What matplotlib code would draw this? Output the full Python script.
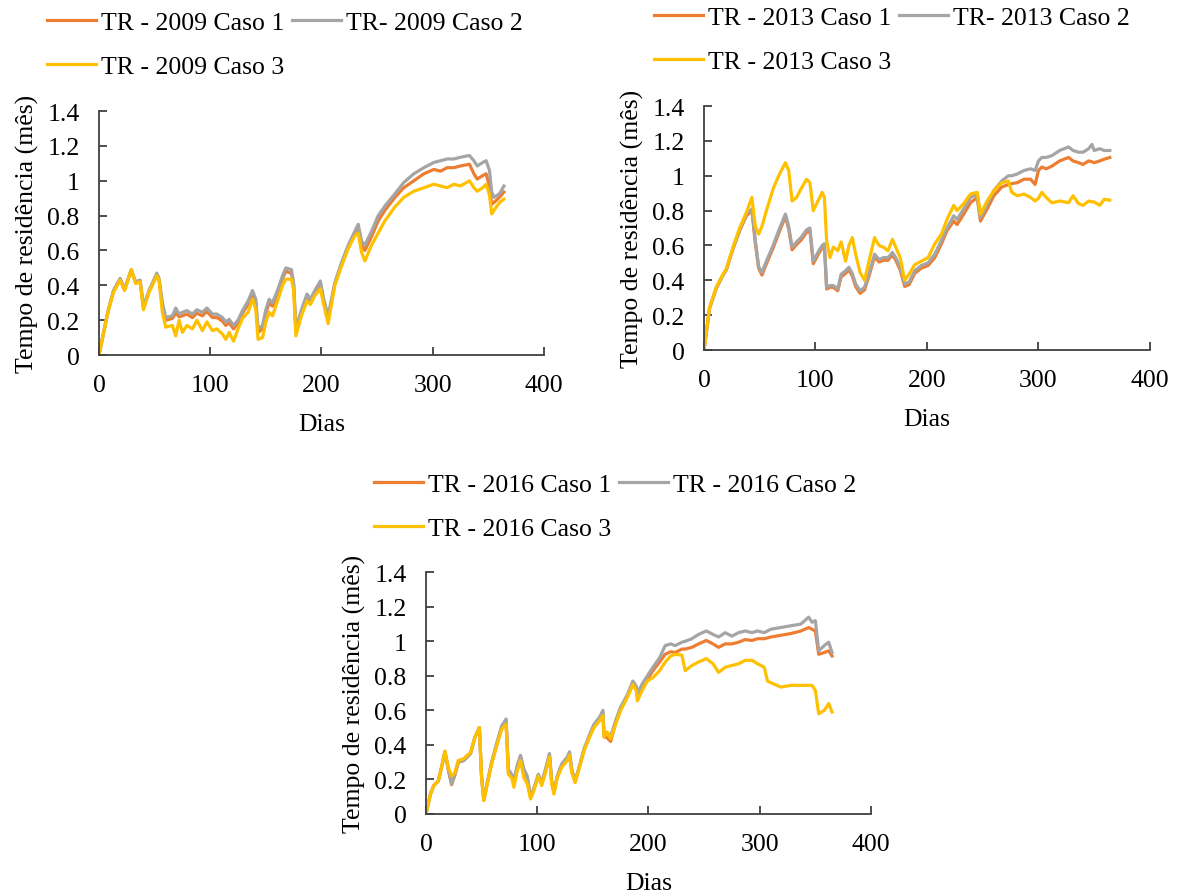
import matplotlib
matplotlib.use("Agg")
import matplotlib.pyplot as plt

plt.rcParams['font.family'] = ['Liberation Serif', 'DejaVu Serif']

# Cores (paleta do Excel)
cor_caso1 = '#ED7D31'
cor_caso2 = '#A5A5A5'
cor_caso3 = '#FFC000'

# ---- 2009 ----
dias_2009 = [0, 8, 13, 19, 23, 29, 33, 37, 40, 45, 52, 54, 57, 60, 66, 69, 72, 75, 79, 84,
             88, 93, 97, 102, 106, 111, 114, 117, 121, 125, 129, 134, 138, 141, 143, 147, 150, 153, 156, 161,
             165, 168, 173, 175, 177, 182, 187, 190, 194, 199, 202, 206, 212, 218, 224, 230, 233, 236, 239, 245,
             251, 257, 266, 274, 283, 292, 301, 307, 313, 319, 325, 333, 337, 340, 345, 348, 351, 353, 355, 360,
             364]
tr2009_caso1 = [0, 0.245, 0.365, 0.435, 0.375, 0.485, 0.415, 0.425, 0.27, 0.365, 0.46, 0.435, 0.28, 0.20, 0.21, 0.24, 0.22, 0.225, 0.235, 0.215,
                0.24, 0.225, 0.25, 0.215, 0.215, 0.195, 0.17, 0.185, 0.15, 0.185, 0.24, 0.29, 0.35, 0.30, 0.13, 0.15, 0.24, 0.30, 0.28, 0.36,
                0.44, 0.48, 0.47, 0.40, 0.14, 0.25, 0.34, 0.31, 0.36, 0.41, 0.31, 0.21, 0.41, 0.52, 0.62, 0.70, 0.73, 0.63, 0.60, 0.68,
                0.77, 0.83, 0.905, 0.96, 1.0, 1.04, 1.065, 1.055, 1.075, 1.075, 1.085, 1.095, 1.04, 1.01, 1.03, 1.04, 0.97, 0.865, 0.875, 0.905,
                0.935]
tr2009_caso2 = [0, 0.25, 0.37, 0.44, 0.38, 0.49, 0.42, 0.43, 0.28, 0.37, 0.47, 0.44, 0.30, 0.215, 0.225, 0.27, 0.235, 0.245, 0.255, 0.235,
                0.26, 0.245, 0.27, 0.235, 0.235, 0.215, 0.19, 0.205, 0.17, 0.20, 0.255, 0.31, 0.37, 0.32, 0.15, 0.17, 0.26, 0.32, 0.30, 0.38,
                0.455, 0.50, 0.49, 0.41, 0.15, 0.26, 0.35, 0.32, 0.37, 0.425, 0.32, 0.225, 0.415, 0.53, 0.63, 0.71, 0.75, 0.655, 0.63, 0.71,
                0.80, 0.855, 0.925, 0.99, 1.04, 1.075, 1.105, 1.115, 1.125, 1.125, 1.135, 1.145, 1.115, 1.085, 1.105, 1.115, 1.06, 0.935, 0.905, 0.925,
                0.97]
tr2009_caso3 = [0, 0.245, 0.36, 0.43, 0.37, 0.49, 0.41, 0.42, 0.26, 0.36, 0.455, 0.43, 0.245, 0.16, 0.17, 0.11, 0.20, 0.13, 0.17, 0.15,
                0.20, 0.14, 0.19, 0.14, 0.15, 0.12, 0.09, 0.13, 0.08, 0.15, 0.21, 0.245, 0.32, 0.26, 0.09, 0.10, 0.19, 0.245, 0.225, 0.32,
                0.40, 0.435, 0.435, 0.37, 0.11, 0.225, 0.31, 0.29, 0.34, 0.38, 0.29, 0.18, 0.40, 0.51, 0.61, 0.685, 0.70, 0.59, 0.54, 0.63,
                0.70, 0.77, 0.85, 0.905, 0.94, 0.96, 0.98, 0.97, 0.96, 0.98, 0.97, 1.0, 0.96, 0.94, 0.96, 0.98, 0.92, 0.81, 0.83, 0.875,
                0.895]

# ---- 2013 ----
dias_2013 = [0, 5, 11, 17, 20, 26, 32, 38, 43, 46, 49, 52, 56, 62, 67, 73, 76, 79, 83, 87,
             92, 95, 98, 103, 106, 108, 110, 113, 116, 120, 123, 127, 130, 133, 136, 140, 144, 148, 153, 157,
             161, 165, 169, 172, 176, 180, 184, 189, 195, 201, 207, 213, 218, 224, 227, 233, 239, 245, 248, 254,
             260, 267, 273, 276, 281, 287, 293, 297, 300, 303, 307, 312, 319, 327, 331, 336, 340, 345, 348, 350,
             355, 359, 364]
tr2013_caso1 = [0, 0.24, 0.355, 0.43, 0.46, 0.58, 0.685, 0.77, 0.80, 0.615, 0.47, 0.43, 0.495, 0.585, 0.67, 0.765, 0.695, 0.575, 0.605, 0.63,
                0.675, 0.685, 0.495, 0.555, 0.585, 0.595, 0.35, 0.36, 0.36, 0.34, 0.42, 0.44, 0.46, 0.425, 0.365, 0.325, 0.345, 0.425, 0.535, 0.505,
                0.515, 0.515, 0.545, 0.515, 0.46, 0.365, 0.375, 0.44, 0.47, 0.485, 0.53, 0.61, 0.685, 0.74, 0.72, 0.78, 0.845, 0.875, 0.74, 0.81,
                0.885, 0.935, 0.95, 0.955, 0.96, 0.98, 0.98, 0.95, 1.03, 1.05, 1.04, 1.055, 1.085, 1.105, 1.085, 1.075, 1.065, 1.085, 1.08, 1.075,
                1.085, 1.095, 1.105]
tr2013_caso2 = [0, 0.24, 0.355, 0.43, 0.46, 0.585, 0.69, 0.78, 0.81, 0.63, 0.48, 0.445, 0.51, 0.60, 0.685, 0.78, 0.71, 0.59, 0.62, 0.645,
                0.69, 0.70, 0.51, 0.57, 0.60, 0.61, 0.36, 0.37, 0.37, 0.35, 0.435, 0.455, 0.475, 0.44, 0.38, 0.34, 0.36, 0.44, 0.55, 0.52,
                0.53, 0.53, 0.56, 0.53, 0.475, 0.38, 0.39, 0.455, 0.485, 0.50, 0.55, 0.63, 0.70, 0.77, 0.75, 0.81, 0.875, 0.895, 0.76, 0.835,
                0.915, 0.97, 1.0, 1.0, 1.01, 1.03, 1.04, 1.03, 1.085, 1.105, 1.105, 1.115, 1.145, 1.165, 1.145, 1.135, 1.135, 1.155, 1.18, 1.145,
                1.155, 1.145, 1.145]
tr2013_caso3 = [0, 0.245, 0.36, 0.435, 0.465, 0.59, 0.70, 0.79, 0.875, 0.71, 0.665, 0.71, 0.80, 0.925, 1.0, 1.075, 1.03, 0.855, 0.875, 0.925,
                0.98, 0.96, 0.80, 0.865, 0.905, 0.875, 0.627, 0.53, 0.59, 0.57, 0.62, 0.51, 0.60, 0.645, 0.55, 0.445, 0.40, 0.51, 0.645, 0.60,
                0.59, 0.57, 0.635, 0.59, 0.53, 0.40, 0.435, 0.49, 0.51, 0.53, 0.61, 0.665, 0.75, 0.83, 0.80, 0.84, 0.895, 0.905, 0.78, 0.855,
                0.915, 0.96, 0.97, 0.905, 0.885, 0.895, 0.875, 0.855, 0.87, 0.905, 0.875, 0.845, 0.855, 0.845, 0.885, 0.84, 0.83, 0.855, 0.85, 0.85,
                0.83, 0.865, 0.86]

# ---- 2016 ----
dias_2016 = [0, 4, 7, 11, 14, 17, 20, 23, 26, 29, 34, 37, 40, 44, 48, 50, 52, 55, 59, 64,
             68, 72, 74, 77, 79, 82, 85, 88, 91, 94, 97, 101, 104, 107, 111, 113, 115, 118, 122, 127,
             129, 131, 134, 138, 142, 147, 151, 156, 159, 160, 163, 166, 171, 175, 181, 186, 189, 190, 195, 199,
             204, 210, 215, 220, 224, 230, 233, 239, 245, 252, 258, 263, 269, 275, 281, 287, 293, 298, 304, 307,
             310, 319, 328, 337, 344, 347, 350, 353, 358, 362, 365]
tr2016_caso1 = [0, 0.115, 0.165, 0.19, 0.27, 0.36, 0.26, 0.17, 0.225, 0.30, 0.31, 0.33, 0.35, 0.445, 0.50, 0.21, 0.08, 0.175, 0.295, 0.41,
                0.50, 0.54, 0.25, 0.22, 0.18, 0.27, 0.33, 0.25, 0.21, 0.095, 0.145, 0.225, 0.175, 0.24, 0.34, 0.185, 0.125, 0.215, 0.28, 0.32,
                0.35, 0.25, 0.185, 0.275, 0.37, 0.45, 0.51, 0.55, 0.59, 0.45, 0.44, 0.42, 0.54, 0.61, 0.68, 0.76, 0.73, 0.68, 0.74, 0.78,
                0.83, 0.88, 0.925, 0.94, 0.935, 0.955, 0.955, 0.965, 0.985, 1.005, 0.985, 0.965, 0.985, 0.985, 0.995, 1.01, 1.005, 1.015, 1.015, 1.02,
                1.025, 1.035, 1.045, 1.06, 1.08, 1.07, 1.06, 0.925, 0.935, 0.945, 0.915]
tr2016_caso2 = [0, 0.115, 0.165, 0.19, 0.27, 0.36, 0.26, 0.175, 0.23, 0.30, 0.31, 0.33, 0.35, 0.445, 0.50, 0.21, 0.08, 0.18, 0.30, 0.42,
                0.51, 0.55, 0.26, 0.23, 0.19, 0.28, 0.34, 0.26, 0.22, 0.10, 0.15, 0.23, 0.18, 0.25, 0.35, 0.19, 0.13, 0.22, 0.29, 0.33,
                0.36, 0.26, 0.19, 0.28, 0.375, 0.46, 0.52, 0.56, 0.60, 0.47, 0.47, 0.45, 0.55, 0.62, 0.69, 0.77, 0.74, 0.70, 0.76, 0.80,
                0.85, 0.905, 0.975, 0.985, 0.975, 0.995, 1.0, 1.015, 1.04, 1.06, 1.04, 1.025, 1.05, 1.03, 1.05, 1.06, 1.05, 1.06, 1.05, 1.06,
                1.07, 1.08, 1.09, 1.10, 1.14, 1.11, 1.12, 0.945, 0.975, 0.995, 0.935]
tr2016_caso3 = [0, 0.115, 0.165, 0.19, 0.27, 0.365, 0.27, 0.22, 0.24, 0.31, 0.32, 0.34, 0.355, 0.445, 0.50, 0.21, 0.077, 0.17, 0.29, 0.405,
                0.49, 0.52, 0.23, 0.21, 0.155, 0.25, 0.31, 0.21, 0.175, 0.087, 0.135, 0.22, 0.165, 0.23, 0.33, 0.175, 0.115, 0.21, 0.27, 0.31,
                0.34, 0.24, 0.183, 0.27, 0.365, 0.445, 0.50, 0.54, 0.57, 0.445, 0.475, 0.435, 0.53, 0.60, 0.675, 0.75, 0.715, 0.655, 0.725, 0.77,
                0.79, 0.83, 0.88, 0.915, 0.925, 0.92, 0.83, 0.86, 0.88, 0.90, 0.87, 0.82, 0.85, 0.86, 0.87, 0.89, 0.89, 0.87, 0.85, 0.77,
                0.76, 0.735, 0.745, 0.745, 0.745, 0.745, 0.715, 0.58, 0.60, 0.64, 0.59]

y_ticks = [0, 0.2, 0.4, 0.6, 0.8, 1.0, 1.2, 1.4]
y_tick_labels = ['0', '0.2', '0.4', '0.6', '0.8', '1', '1.2', '1.4']
x_ticks = [0, 100, 200, 300, 400]

paineis = [
    (2009, dias_2009, tr2009_caso1, tr2009_caso2, tr2009_caso3,
     ['TR - 2009 Caso 1', 'TR- 2009 Caso 2', 'TR - 2009 Caso 3'],
     [0.0838, 0.6022, 0.3768, 0.2726], (0.040, 0.987)),
    (2013, dias_2013, tr2013_caso1, tr2013_caso2, tr2013_caso3,
     ['TR - 2013 Caso 1', 'TR- 2013 Caso 2', 'TR - 2013 Caso 3'],
     [0.5961, 0.6078, 0.3776, 0.2726], (0.554, 0.992)),
    (2016, dias_2016, tr2016_caso1, tr2016_caso2, tr2016_caso3,
     ['TR - 2016 Caso 1', 'TR - 2016 Caso 2', 'TR - 2016 Caso 3'],
     [0.3607, 0.0894, 0.3768, 0.2701], (0.317, 0.470)),
]

fig = plt.figure(figsize=(11.81, 8.95), dpi=100)
fs = 18.5

for ano, dias, c1, c2, c3, nomes, pos, leg_pos in paineis:
    ax = fig.add_axes(pos)
    l1, = ax.plot(dias, c1, color=cor_caso1, lw=2.3)
    l2, = ax.plot(dias, c2, color=cor_caso2, lw=2.3)
    l3, = ax.plot(dias, c3, color=cor_caso3, lw=2.3)
    ax.set_xlim(0, 400)
    ax.set_ylim(0, 1.4)
    ax.set_xticks(x_ticks)
    ax.set_yticks(y_ticks)
    ax.set_yticklabels(y_tick_labels)
    ax.spines['top'].set_visible(False)
    ax.spines['right'].set_visible(False)
    for s in ['left', 'bottom']:
        ax.spines[s].set_color('#404040')
        ax.spines[s].set_linewidth(1.3)
    ax.tick_params(direction='in', length=6, width=1.3, color='#404040',
                   labelsize=fs, pad=14)
    ax.set_xlabel('Dias', fontsize=fs, labelpad=12)
    ax.set_ylabel('Tempo de residência (mês)', fontsize=fs, labelpad=6)
    # ordem trocada para o legend preencher por linha
    fig.legend([l1, l3, l2], [nomes[0], nomes[2], nomes[1]], ncol=2,
               loc='upper left', bbox_to_anchor=leg_pos, frameon=False,
               fontsize=fs, handlelength=1.9, handletextpad=0.2,
               columnspacing=0.3, labelspacing=0.82, borderpad=0,
               borderaxespad=0)

fig.savefig('out.png', dpi=100)
